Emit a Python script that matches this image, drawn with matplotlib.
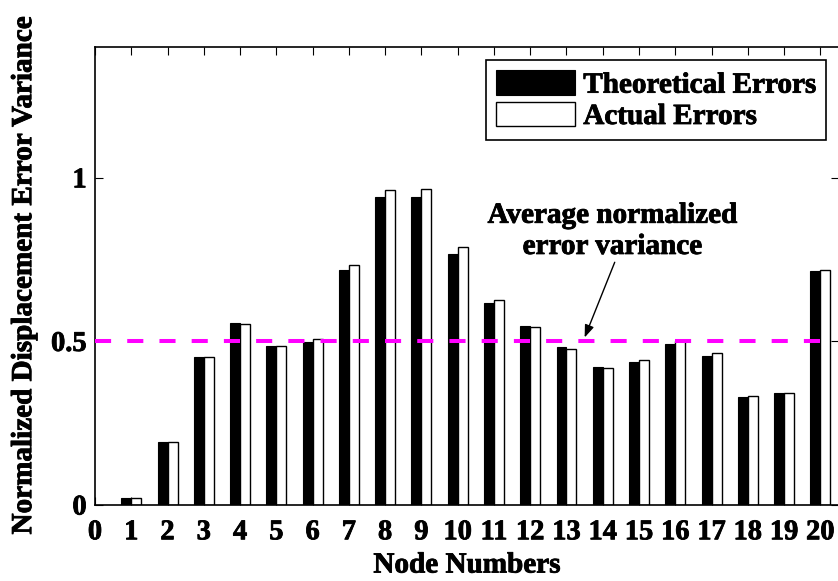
import numpy as np
import matplotlib
matplotlib.use("Agg")
import matplotlib.pyplot as plt
import matplotlib.patheffects as pe

# Normalized displacement error variance per node
nodes = list(range(1, 21))
theoretical = [0.022, 0.193, 0.452, 0.556, 0.486, 0.499, 0.719, 0.941, 0.941, 0.768,
               0.618, 0.548, 0.482, 0.423, 0.436, 0.492, 0.455, 0.330, 0.342, 0.714]
actual = [0.022, 0.193, 0.452, 0.554, 0.486, 0.507, 0.734, 0.964, 0.966, 0.789,
          0.627, 0.545, 0.477, 0.420, 0.442, 0.500, 0.465, 0.334, 0.342, 0.717]
average_level = 0.5
x_ticks = list(range(0, 21))
y_ticks = [0, 0.5, 1]
y_ticklabels = ["0", "0.5", "1"]

plt.rcParams["font.family"] = ["Liberation Serif", "DejaVu Serif"]
plt.rcParams["font.weight"] = "bold"

fig = plt.figure(figsize=(8.38, 5.81), dpi=100)
ax = fig.add_axes([95 / 838, (581 - 505) / 581, (838.5 - 95) / 838, 458 / 581])

x = np.array(nodes, dtype=float)
w = 0.275
ax.bar(x - w / 2, theoretical, width=w, color="black", edgecolor="black",
       linewidth=0.8, label="Theoretical Errors", zorder=2)
ax.bar(x + w / 2, actual, width=w, color="white", edgecolor="black",
       linewidth=1.0, label="Actual Errors", zorder=2)

ax.plot([0, 20], [average_level, average_level], color="#ff00ff", linewidth=2.9,
        linestyle=(0, (4, 4)), zorder=3)

note = ax.text(14.26, 0.838, "Average normalized\nerror variance", ha="center",
               va="center", fontsize=21, fontweight="bold", linespacing=1.2)
ax.annotate("", xy=(13.5, 0.512), xytext=(14.33, 0.742),
            arrowprops=dict(arrowstyle="-|>,head_length=0.75,head_width=0.28",
                            color="black", lw=1.0, shrinkA=0, shrinkB=0))

ax.set_xlim(0, 20.5)
ax.set_ylim(0, 1.4)
ax.set_xticks(x_ticks)
ax.set_yticks(y_ticks)
ax.set_yticklabels(y_ticklabels)
ax.tick_params(direction="in", length=5.5, width=0.8, top=True, right=True,
               labelsize=20.5)
ax.tick_params(axis="x", pad=11)
ax.tick_params(axis="y", pad=6)
for s in ax.spines.values():
    s.set_linewidth(1.2)

xl = ax.set_xlabel("Node Numbers", fontsize=21, fontweight="bold", labelpad=4.5)
yl = ax.set_ylabel("Normalized Displacement Error Variance", fontsize=21,
                   fontweight="bold", labelpad=10)

leg = ax.legend(loc="upper right", bbox_to_anchor=(0.983, 0.9716), borderaxespad=0,
                fontsize=21, frameon=True, fancybox=False, edgecolor="black",
                framealpha=1, handlelength=2.7, handleheight=0.93,
                handletextpad=0.3, labelspacing=0.1, borderpad=0.35)
leg.get_frame().set_linewidth(1.2)

# Heavier glyph strokes for all text
heavy = [pe.Stroke(linewidth=0.6, foreground="black"), pe.Normal()]
texts = [note, xl, yl] + ax.get_xticklabels() + ax.get_yticklabels() + leg.get_texts()
for t in texts:
    t.set_path_effects(heavy)

fig.savefig("out.png", dpi=100)
